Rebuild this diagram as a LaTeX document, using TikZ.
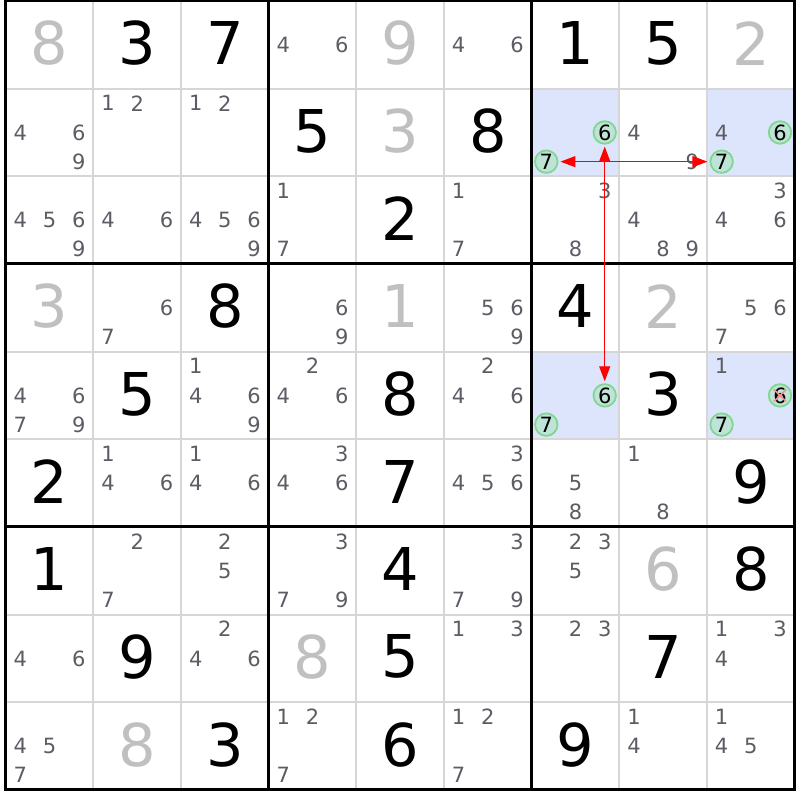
\documentclass[tikz,border=0pt]{standalone}
\usepackage{fontspec}
\setmainfont{DejaVu Sans}
\usetikzlibrary{arrows.meta}
\definecolor{solved}{HTML}{C0C0C0}
\definecolor{candc}{HTML}{5C5C64}
\definecolor{thingrid}{HTML}{D6D6D6}
\definecolor{hlcell}{HTML}{DCE5FB}
\definecolor{circf}{HTML}{BFE3D6}
\definecolor{circd}{HTML}{80D890}
\definecolor{linkred}{HTML}{FF0000}
\definecolor{xpink}{HTML}{F08C8C}
\newcommand\GivenD[3]{\node[givenstyle] (v#1#2) at ({5.8+(#2-0.5)*87.65},{1+(#1-0.5)*87.65-1.5}) {#3};}
\newcommand\SolvedD[3]{\node[solvstyle] (v#1#2) at ({5.8+(#2-0.5)*87.65},{1+(#1-0.5)*87.65-1.5}) {#3};}
\newcommand\CandD[3]{\foreach \dd in {#3}{%
  \pgfmathtruncatemacro\cc{mod(\dd-1,3)}%
  \pgfmathtruncatemacro\rr{floor((\dd-1)/3)}%
  \node[candstyle] (c#1#2\dd) at ({5.8+(#2-1)*87.65+14.6+\cc*29.2},{1+(#1-1)*87.65+14.6+\rr*29.2}) {\dd};}}
\newcommand\CircD[3]{%
  \pgfmathtruncatemacro\cc{mod(#3-1,3)}%
  \pgfmathtruncatemacro\rr{floor((#3-1)/3)}%
  \node[circstyle] (k#1#2#3) at ({5.8+(#2-1)*87.65+14.6+\cc*29.2},{1+(#1-1)*87.65+14.6+\rr*29.2}) {#3};}
\newcommand\HiCell[2]{\fill[hlcell] ({5.8+(#2-1)*87.65},{1+(#1-1)*87.65}) rectangle ++(87.65,87.65);}
\begin{document}
\begin{tikzpicture}[x=1pt,y=-1pt,
  givenstyle/.style={font=\fontsize{59}{59}\selectfont, text=black, inner sep=0pt},
  solvstyle/.style={givenstyle, text=solved},
  candstyle/.style={font=\fontsize{21}{21}\selectfont, text=candc, inner sep=0pt},
  circstyle/.style={font=\fontsize{21}{21}\selectfont, text=black, inner sep=0pt, circle, draw=circd, fill=circf, line width=1.8pt, minimum size=22.5pt},
  chainlink/.style={draw=linkred, line width=1.3pt, {Triangle[length=15pt,width=11pt]}-{Triangle[length=15pt,width=11pt]}, shorten <=2pt, shorten >=2pt},
  xmark/.style={draw=xpink, line width=1.6pt},
  thinline/.style={draw=thingrid, line width=2pt},
  thickline/.style={draw=black, line width=3pt}]
\useasboundingbox (0,0) rectangle (800,800);
\fill[white] (0,0) rectangle (800,800);
% highlighted cells
\HiCell{2}{7}\HiCell{2}{9}\HiCell{5}{7}\HiCell{5}{9}
% grid
\foreach \i in {1,2,4,5,7,8}{
  \draw[thinline] ({5.8+\i*87.65},1) -- ({5.8+\i*87.65},789.85);
  \draw[thinline] (5.8,{1+\i*87.65}) -- (794.65,{1+\i*87.65});
}
\foreach \i in {3,6}{
  \draw[thickline] ({5.8+\i*87.65},1) -- ({5.8+\i*87.65},789.85);
  \draw[thickline] (5.8,{1+\i*87.65}) -- (794.65,{1+\i*87.65});
}
\draw[thickline] (5.8,1) rectangle (794.65,789.85);
% row 1
\SolvedD{1}{1}{8} \GivenD{1}{2}{3} \GivenD{1}{3}{7} \CandD{1}{4}{4,6} \SolvedD{1}{5}{9} \CandD{1}{6}{4,6} \GivenD{1}{7}{1} \GivenD{1}{8}{5} \SolvedD{1}{9}{2}
% row 2
\CandD{2}{1}{4,6,9} \CandD{2}{2}{1,2} \CandD{2}{3}{1,2} \GivenD{2}{4}{5} \SolvedD{2}{5}{3} \GivenD{2}{6}{8} \CircD{2}{7}{6}\CircD{2}{7}{7} \CandD{2}{8}{4,9} \CandD{2}{9}{4} \CircD{2}{9}{6}\CircD{2}{9}{7}
% row 3
\CandD{3}{1}{4,5,6,9} \CandD{3}{2}{4,6} \CandD{3}{3}{4,5,6,9} \CandD{3}{4}{1,7} \GivenD{3}{5}{2} \CandD{3}{6}{1,7} \CandD{3}{7}{3,8} \CandD{3}{8}{4,8,9} \CandD{3}{9}{3,4,6}
% row 4
\SolvedD{4}{1}{3} \CandD{4}{2}{6,7} \GivenD{4}{3}{8} \CandD{4}{4}{6,9} \SolvedD{4}{5}{1} \CandD{4}{6}{5,6,9} \GivenD{4}{7}{4} \SolvedD{4}{8}{2} \CandD{4}{9}{5,6,7}
% row 5
\CandD{5}{1}{4,6,7,9} \GivenD{5}{2}{5} \CandD{5}{3}{1,4,6,9} \CandD{5}{4}{2,4,6} \GivenD{5}{5}{8} \CandD{5}{6}{2,4,6} \CircD{5}{7}{6}\CircD{5}{7}{7} \GivenD{5}{8}{3} \CandD{5}{9}{1} \CircD{5}{9}{6}\CircD{5}{9}{7}
% row 6
\GivenD{6}{1}{2} \CandD{6}{2}{1,4,6} \CandD{6}{3}{1,4,6} \CandD{6}{4}{3,4,6} \GivenD{6}{5}{7} \CandD{6}{6}{3,4,5,6} \CandD{6}{7}{5,8} \CandD{6}{8}{1,8} \GivenD{6}{9}{9}
% row 7
\GivenD{7}{1}{1} \CandD{7}{2}{2,7} \CandD{7}{3}{2,5} \CandD{7}{4}{3,7,9} \GivenD{7}{5}{4} \CandD{7}{6}{3,7,9} \CandD{7}{7}{2,3,5} \SolvedD{7}{8}{6} \GivenD{7}{9}{8}
% row 8
\CandD{8}{1}{4,6} \GivenD{8}{2}{9} \CandD{8}{3}{2,4,6} \SolvedD{8}{4}{8} \GivenD{8}{5}{5} \CandD{8}{6}{1,3} \CandD{8}{7}{2,3} \GivenD{8}{8}{7} \CandD{8}{9}{1,3,4}
% row 9
\CandD{9}{1}{4,5,7} \SolvedD{9}{2}{8} \GivenD{9}{3}{3} \CandD{9}{4}{1,2,7} \GivenD{9}{5}{6} \CandD{9}{6}{1,2,7} \GivenD{9}{7}{9} \CandD{9}{8}{1,4} \CandD{9}{9}{1,4,5}
% eliminated candidate
\draw[xmark] ([shift={(-6,-6)}]k596.center) -- ([shift={(6,6)}]k596.center);
\draw[xmark] ([shift={(6,-6)}]k596.center) -- ([shift={(-6,6)}]k596.center);
% links
\draw[chainlink] (k276) -- (k576);
\draw[chainlink] (k277) -- (k297);
\end{tikzpicture}
\end{document}
